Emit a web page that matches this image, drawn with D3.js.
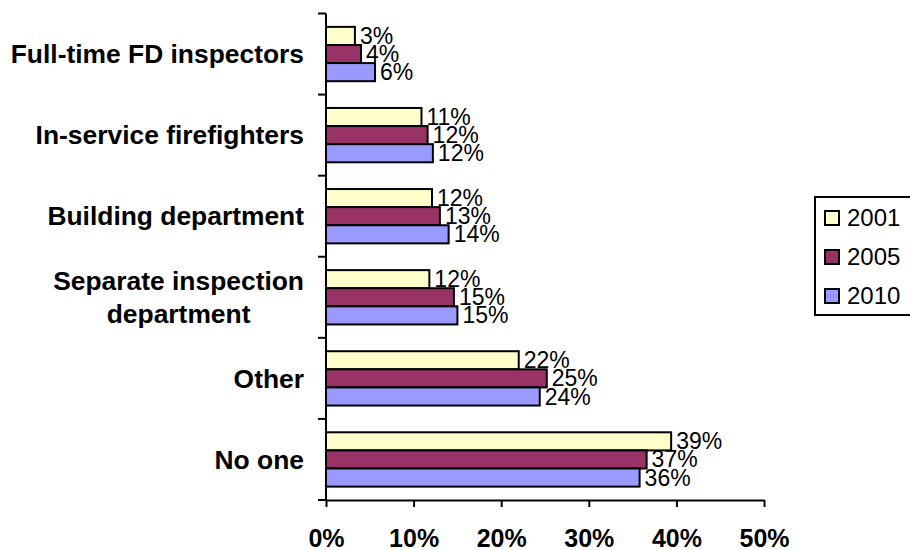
<!DOCTYPE html>
<html>
<head>
<meta charset="utf-8">
<script src="https://cdn.jsdelivr.net/npm/d3@7"></script>
<style>
  html, body { margin: 0; padding: 0; background: #fff; }
  svg { display: block; font-family: "Liberation Sans", Arial, sans-serif; }
</style>
</head>
<body>
<svg id="chart" width="910" height="550"></svg>
<script>
// Data
const categories = [
  "Full-time FD inspectors",
  "In-service firefighters",
  "Building department",
  "Separate inspection\ndepartment",
  "Other",
  "No one"
];
const years = ["2001", "2005", "2010"];
const values2001 = [3.3, 10.9, 12.1, 11.8, 22.0, 39.4];
const values2005 = [4.0, 11.6, 13.0, 14.6, 25.2, 36.6];
const values2010 = [5.6, 12.2, 14.0, 15.0, 24.4, 35.8];
const xTicks = [0, 10, 20, 30, 40, 50];
const colors = ["#FFFFCC", "#993366", "#9999FF"];

const seriesValues = [values2001, values2005, values2010];

const svg = d3.select("#chart");

const x = d3.scaleLinear().domain([0, 50]).range([326, 764]);
const y = d3.scaleBand().domain(categories).range([13.5, 500])
  .paddingInner(0.33).paddingOuter(0.165);
const yInner = d3.scaleBand().domain(years).range([0, y.bandwidth()]);

// Bars
categories.forEach((cat, ci) => {
  const g = svg.append("g").attr("transform", `translate(0,${y(cat)})`);
  years.forEach((yr, si) => {
    const v = seriesValues[si][ci];
    g.append("rect")
      .attr("x", x(0))
      .attr("y", yInner(yr))
      .attr("width", x(v) - x(0))
      .attr("height", yInner.bandwidth())
      .attr("fill", colors[si])
      .attr("stroke", "#000")
      .attr("stroke-width", 2);
    g.append("text")
      .attr("x", x(v) + 5)
      .attr("y", yInner(yr) + yInner.bandwidth() / 2)
      .attr("dy", "0.35em")
      .attr("font-size", 23)
      .attr("fill", "#000")
      .text(Math.round(v) + "%");
  });
});

// X axis
const xAxis = svg.append("g")
  .attr("transform", "translate(0,500)")
  .call(d3.axisBottom(x).tickValues(xTicks).tickSize(7).tickSizeOuter(0)
    .tickPadding(22).tickFormat(d => d + "%"));
xAxis.selectAll("path, line").attr("stroke", "#000").attr("stroke-width", 2);
xAxis.selectAll("text").attr("font-size", 25).attr("font-weight", "bold")
  .attr("fill", "#000").attr("font-family", "'Liberation Sans', Arial, sans-serif");

// Y axis (ticks at category boundaries)
const y0 = y.range()[0], y1 = y.range()[1];
svg.append("line").attr("x1", x(0)).attr("x2", x(0)).attr("y1", y0).attr("y2", y1)
  .attr("stroke", "#000").attr("stroke-width", 2);
d3.range(categories.length + 1).forEach(i => {
  const yy = y0 + i * y.step();
  svg.append("line").attr("x1", x(0) - 8).attr("x2", x(0)).attr("y1", yy).attr("y2", yy)
    .attr("stroke", "#000").attr("stroke-width", 2);
});

// Category labels
const labelRight = 304;
categories.forEach(cat => {
  const lines = cat.split("\n");
  const cy = y(cat) + y.bandwidth() / 2;
  const lh = 33.6;
  const t = svg.append("text")
    .attr("font-size", 26.4).attr("font-weight", "bold").attr("fill", "#000");
  const spans = lines.map((ln, i) => t.append("tspan")
    .attr("y", cy + (i - (lines.length - 1) / 2) * lh)
    .attr("dy", "0.35em")
    .text(ln));
  if (lines.length === 1) {
    t.attr("text-anchor", "end");
    spans.forEach(s => s.attr("x", labelRight));
  } else {
    const maxW = d3.max(spans, s => s.node().getComputedTextLength());
    t.attr("text-anchor", "middle");
    spans.forEach(s => s.attr("x", labelRight - maxW / 2));
  }
});

// Legend
const lg = svg.append("g");
lg.append("rect").attr("x", 815).attr("y", 197).attr("width", 120).attr("height", 118)
  .attr("fill", "#fff").attr("stroke", "#000").attr("stroke-width", 2);
years.forEach((yr, i) => {
  const yy = 211 + i * 39;
  lg.append("rect").attr("x", 825).attr("y", yy).attr("width", 14).attr("height", 14)
    .attr("fill", colors[i]).attr("stroke", "#000").attr("stroke-width", 2);
  lg.append("text").attr("x", 847).attr("y", yy + 15).attr("font-size", 24)
    .attr("fill", "#000").text(yr);
});
</script>
</body>
</html>
